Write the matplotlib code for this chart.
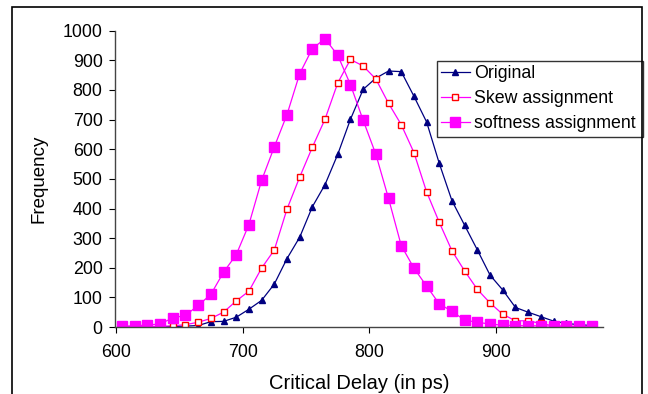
import matplotlib.pyplot as plt
from matplotlib.patches import Rectangle

plt.rcParams['font.family'] = ['Liberation Sans', 'DejaVu Sans']

delay = [605 + 10 * i for i in range(38)]

original = [0, 0, 1, 1, 2, 3, 5, 18, 19, 33, 60, 90, 145, 231, 303, 406, 481, 583,
            701, 802, 840, 864, 862, 779, 692, 552, 426, 343, 260, 175, 125, 66,
            50, 35, 20, 12, 8, 5]
skew = [1, 1, 2, 2, 4, 8, 16, 29, 50, 88, 121, 199, 260, 398, 506, 607, 702, 824,
        903, 881, 837, 755, 683, 589, 456, 353, 257, 189, 127, 81, 43, 21, 21, 12,
        4, 2, 1, 1]
softness = [3, 4, 7, 10, 31, 39, 73, 110, 185, 244, 346, 495, 608, 717, 855, 940,
            973, 917, 818, 698, 583, 434, 275, 199, 138, 78, 53, 23, 16, 10, 6, 5,
            4, 4, 3, 3, 3, 2]

fig = plt.figure(figsize=(6.48, 3.94), dpi=100)
# outer chart frame
fig.patches.append(Rectangle((12 / 648, -0.05), 630 / 648, 1 - 7 / 394 + 0.05,
                             transform=fig.transFigure, fill=False,
                             edgecolor='black', linewidth=1.2))

ax = fig.add_axes([0.1775, 0.170, 0.7531, 0.752])

ax.plot(delay, original, color='#000080', linewidth=0.9, marker='^',
        markersize=5, markerfacecolor='#000080', markeredgecolor='#000080',
        label='Original')
ax.plot(delay, skew, color='#FF00FF', linewidth=0.9, marker='s',
        markersize=4.5, markerfacecolor='white', markeredgecolor='#FF0000',
        markeredgewidth=1.0, label='Skew assignment')
ax.plot(delay, softness, color='#FF00FF', linewidth=0.9, marker='s',
        markersize=6.8, markerfacecolor='#FF00FF', markeredgecolor='#FF00FF',
        label='softness assignment')

ax.set_xlim(599.5, 984)
ax.set_ylim(0, 1000)
ax.set_xticks([600, 700, 800, 900])
ax.set_yticks(range(0, 1001, 100))
ax.tick_params(direction='out', length=4, width=0.8, labelsize=12.8, colors='black')
ax.tick_params(axis='y', pad=5)
ax.tick_params(axis='x', pad=8.5)
for s in ['top', 'right']:
    ax.spines[s].set_visible(False)
for s in ['left', 'bottom']:
    ax.spines[s].set_color('#444444')
    ax.spines[s].set_linewidth(1.0)

ax.set_xlabel('Critical Delay (in ps)', fontsize=14.5, labelpad=9)
ax.set_ylabel('Frequency', fontsize=13.5, labelpad=11)

leg = ax.legend(loc='upper left', bbox_to_anchor=(436.7 / 648, 1 - 136 / 394, 206 / 648, 75 / 394),
                bbox_transform=fig.transFigure, mode='expand', fontsize=12.8,
                frameon=True, fancybox=False, borderpad=0.25, labelspacing=0.45,
                handlelength=1.6, handletextpad=0.25, borderaxespad=0)
leg.get_frame().set_edgecolor('black')
leg.get_frame().set_linewidth(1.0)

fig.savefig('out.png', dpi=100)
